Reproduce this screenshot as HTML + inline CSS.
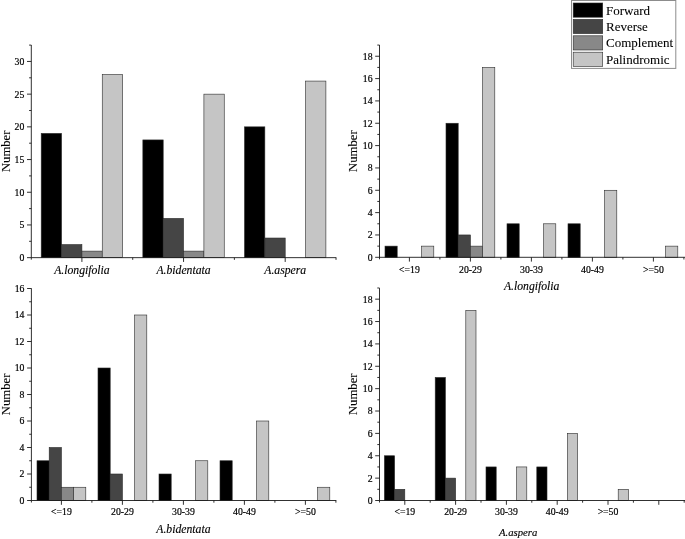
<!DOCTYPE html>
<html lang="en"><head><meta charset="utf-8"><title>Repeats</title>
<style>html,body{margin:0;padding:0;background:#fff}body{width:685px;height:539px;overflow:hidden}svg{display:block}text{font-family:"Liberation Serif","Times New Roman",serif;fill:#000;stroke:#000;stroke-width:0.2px}text.b{stroke-width:0.08px}text.i{stroke-width:0.14px}</style>
</head><body>
<svg width="685" height="539" viewBox="0 0 685 539">
<rect width="685" height="539" fill="#fff"/>
<rect x="41.20" y="133.39" width="20.35" height="124.26" fill="#000000" stroke="#2a2a2a" stroke-width="0.6"/>
<rect x="61.55" y="244.57" width="20.35" height="13.08" fill="#454545" stroke="#2a2a2a" stroke-width="0.6"/>
<rect x="81.90" y="251.11" width="20.35" height="6.54" fill="#888888" stroke="#2a2a2a" stroke-width="0.6"/>
<rect x="102.25" y="74.53" width="20.35" height="183.12" fill="#c5c5c5" stroke="#2a2a2a" stroke-width="0.6"/>
<rect x="142.85" y="139.93" width="20.35" height="117.72" fill="#000000" stroke="#2a2a2a" stroke-width="0.6"/>
<rect x="163.20" y="218.41" width="20.35" height="39.24" fill="#454545" stroke="#2a2a2a" stroke-width="0.6"/>
<rect x="183.55" y="251.11" width="20.35" height="6.54" fill="#888888" stroke="#2a2a2a" stroke-width="0.6"/>
<rect x="203.90" y="94.15" width="20.35" height="163.50" fill="#c5c5c5" stroke="#2a2a2a" stroke-width="0.6"/>
<rect x="244.50" y="126.85" width="20.35" height="130.80" fill="#000000" stroke="#2a2a2a" stroke-width="0.6"/>
<rect x="264.85" y="238.03" width="20.35" height="19.62" fill="#454545" stroke="#2a2a2a" stroke-width="0.6"/>
<rect x="305.55" y="81.07" width="20.35" height="176.58" fill="#c5c5c5" stroke="#2a2a2a" stroke-width="0.6"/>
<path d="M31.30 45.00V259.65M31.30 257.65H336.30" fill="none" stroke="#1a1a1a" stroke-width="0.9"/>
<text x="24.30" y="261.05" text-anchor="end" font-size="9.75">0</text>
<text x="24.30" y="228.35" text-anchor="end" font-size="9.75">5</text>
<text x="24.30" y="195.65" text-anchor="end" font-size="9.75">10</text>
<text x="24.30" y="162.95" text-anchor="end" font-size="9.75">15</text>
<text x="24.30" y="130.25" text-anchor="end" font-size="9.75">20</text>
<text x="24.30" y="97.55" text-anchor="end" font-size="9.75">25</text>
<text x="24.30" y="64.85" text-anchor="end" font-size="9.75">30</text>
<path d="M31.30 257.65h-4.3M31.30 224.95h-4.3M31.30 192.25h-4.3M31.30 159.55h-4.3M31.30 126.85h-4.3M31.30 94.15h-4.3M31.30 61.45h-4.3M31.30 241.30h-2.2M31.30 208.60h-2.2M31.30 175.90h-2.2M31.30 143.20h-2.2M31.30 110.50h-2.2M31.30 77.80h-2.2M31.30 45.10h-2.2M81.90 257.65v4.3M183.55 257.65v4.3M285.20 257.65v4.3M132.73 257.65v2.2M234.38 257.65v2.2M336.03 257.65v2.2" fill="none" stroke="#1a1a1a" stroke-width="0.9"/>
<text x="81.90" y="273.60" text-anchor="middle" font-size="11.7" font-style="italic" class="i">A.longifolia</text>
<text x="183.55" y="273.60" text-anchor="middle" font-size="11.7" font-style="italic" class="i">A.bidentata</text>
<text x="285.20" y="273.60" text-anchor="middle" font-size="11.7" font-style="italic" class="i">A.aspera</text>
<text transform="translate(10.20 151.32) rotate(-90)" text-anchor="middle" font-size="12.7" class="b">Number</text>
<rect x="385.00" y="246.13" width="12.20" height="11.17" fill="#000000" stroke="#2a2a2a" stroke-width="0.6"/>
<rect x="421.60" y="246.13" width="12.20" height="11.17" fill="#c5c5c5" stroke="#2a2a2a" stroke-width="0.6"/>
<rect x="446.00" y="123.26" width="12.20" height="134.04" fill="#000000" stroke="#2a2a2a" stroke-width="0.6"/>
<rect x="458.20" y="234.96" width="12.20" height="22.34" fill="#454545" stroke="#2a2a2a" stroke-width="0.6"/>
<rect x="470.40" y="246.13" width="12.20" height="11.17" fill="#888888" stroke="#2a2a2a" stroke-width="0.6"/>
<rect x="482.60" y="67.41" width="12.20" height="189.89" fill="#c5c5c5" stroke="#2a2a2a" stroke-width="0.6"/>
<rect x="507.00" y="223.79" width="12.20" height="33.51" fill="#000000" stroke="#2a2a2a" stroke-width="0.6"/>
<rect x="543.60" y="223.79" width="12.20" height="33.51" fill="#c5c5c5" stroke="#2a2a2a" stroke-width="0.6"/>
<rect x="568.00" y="223.79" width="12.20" height="33.51" fill="#000000" stroke="#2a2a2a" stroke-width="0.6"/>
<rect x="604.60" y="190.28" width="12.20" height="67.02" fill="#c5c5c5" stroke="#2a2a2a" stroke-width="0.6"/>
<rect x="665.60" y="246.13" width="12.20" height="11.17" fill="#c5c5c5" stroke="#2a2a2a" stroke-width="0.6"/>
<path d="M379.50 45.00V259.30M379.50 257.30H685.00" fill="none" stroke="#1a1a1a" stroke-width="0.9"/>
<text x="372.50" y="260.70" text-anchor="end" font-size="9.75">0</text>
<text x="372.50" y="238.36" text-anchor="end" font-size="9.75">2</text>
<text x="372.50" y="216.02" text-anchor="end" font-size="9.75">4</text>
<text x="372.50" y="193.68" text-anchor="end" font-size="9.75">6</text>
<text x="372.50" y="171.34" text-anchor="end" font-size="9.75">8</text>
<text x="372.50" y="149.00" text-anchor="end" font-size="9.75">10</text>
<text x="372.50" y="126.66" text-anchor="end" font-size="9.75">12</text>
<text x="372.50" y="104.32" text-anchor="end" font-size="9.75">14</text>
<text x="372.50" y="81.98" text-anchor="end" font-size="9.75">16</text>
<text x="372.50" y="59.64" text-anchor="end" font-size="9.75">18</text>
<path d="M379.50 257.30h-4.3M379.50 234.96h-4.3M379.50 212.62h-4.3M379.50 190.28h-4.3M379.50 167.94h-4.3M379.50 145.60h-4.3M379.50 123.26h-4.3M379.50 100.92h-4.3M379.50 78.58h-4.3M379.50 56.24h-4.3M379.50 246.13h-2.2M379.50 223.79h-2.2M379.50 201.45h-2.2M379.50 179.11h-2.2M379.50 156.77h-2.2M379.50 134.43h-2.2M379.50 112.09h-2.2M379.50 89.75h-2.2M379.50 67.41h-2.2M379.50 45.07h-2.2M409.40 257.30v4.3M470.40 257.30v4.3M531.40 257.30v4.3M592.40 257.30v4.3M653.40 257.30v4.3M439.90 257.30v2.2M500.90 257.30v2.2M561.90 257.30v2.2M622.90 257.30v2.2M683.90 257.30v2.2" fill="none" stroke="#1a1a1a" stroke-width="0.9"/>
<text x="409.40" y="272.60" text-anchor="middle" font-size="9.75">&lt;=19</text>
<text x="470.40" y="272.60" text-anchor="middle" font-size="9.75">20-29</text>
<text x="531.40" y="272.60" text-anchor="middle" font-size="9.75">30-39</text>
<text x="592.40" y="272.60" text-anchor="middle" font-size="9.75">40-49</text>
<text x="653.40" y="272.60" text-anchor="middle" font-size="9.75">&gt;=50</text>
<text x="531.70" y="289.80" text-anchor="middle" font-size="11.7" font-style="italic" class="i">A.longifolia</text>
<text transform="translate(356.80 151.15) rotate(-90)" text-anchor="middle" font-size="12.7" class="b">Number</text>
<rect x="37.00" y="460.75" width="12.20" height="39.75" fill="#000000" stroke="#2a2a2a" stroke-width="0.6"/>
<rect x="49.20" y="447.50" width="12.20" height="53.00" fill="#454545" stroke="#2a2a2a" stroke-width="0.6"/>
<rect x="61.40" y="487.25" width="12.20" height="13.25" fill="#888888" stroke="#2a2a2a" stroke-width="0.6"/>
<rect x="73.60" y="487.25" width="12.20" height="13.25" fill="#c5c5c5" stroke="#2a2a2a" stroke-width="0.6"/>
<rect x="98.00" y="368.00" width="12.20" height="132.50" fill="#000000" stroke="#2a2a2a" stroke-width="0.6"/>
<rect x="110.20" y="474.00" width="12.20" height="26.50" fill="#454545" stroke="#2a2a2a" stroke-width="0.6"/>
<rect x="134.60" y="315.00" width="12.20" height="185.50" fill="#c5c5c5" stroke="#2a2a2a" stroke-width="0.6"/>
<rect x="159.00" y="474.00" width="12.20" height="26.50" fill="#000000" stroke="#2a2a2a" stroke-width="0.6"/>
<rect x="195.60" y="460.75" width="12.20" height="39.75" fill="#c5c5c5" stroke="#2a2a2a" stroke-width="0.6"/>
<rect x="220.00" y="460.75" width="12.20" height="39.75" fill="#000000" stroke="#2a2a2a" stroke-width="0.6"/>
<rect x="256.60" y="421.00" width="12.20" height="79.50" fill="#c5c5c5" stroke="#2a2a2a" stroke-width="0.6"/>
<rect x="317.60" y="487.25" width="12.20" height="13.25" fill="#c5c5c5" stroke="#2a2a2a" stroke-width="0.6"/>
<path d="M31.40 288.30V502.50M31.40 500.50H336.30" fill="none" stroke="#1a1a1a" stroke-width="0.9"/>
<text x="24.40" y="503.90" text-anchor="end" font-size="9.75">0</text>
<text x="24.40" y="477.40" text-anchor="end" font-size="9.75">2</text>
<text x="24.40" y="450.90" text-anchor="end" font-size="9.75">4</text>
<text x="24.40" y="424.40" text-anchor="end" font-size="9.75">6</text>
<text x="24.40" y="397.90" text-anchor="end" font-size="9.75">8</text>
<text x="24.40" y="371.40" text-anchor="end" font-size="9.75">10</text>
<text x="24.40" y="344.90" text-anchor="end" font-size="9.75">12</text>
<text x="24.40" y="318.40" text-anchor="end" font-size="9.75">14</text>
<text x="24.40" y="291.90" text-anchor="end" font-size="9.75">16</text>
<path d="M31.40 500.50h-4.3M31.40 474.00h-4.3M31.40 447.50h-4.3M31.40 421.00h-4.3M31.40 394.50h-4.3M31.40 368.00h-4.3M31.40 341.50h-4.3M31.40 315.00h-4.3M31.40 288.50h-4.3M31.40 487.25h-2.2M31.40 460.75h-2.2M31.40 434.25h-2.2M31.40 407.75h-2.2M31.40 381.25h-2.2M31.40 354.75h-2.2M31.40 328.25h-2.2M31.40 301.75h-2.2M61.40 500.50v4.3M122.40 500.50v4.3M183.40 500.50v4.3M244.40 500.50v4.3M305.40 500.50v4.3M91.90 500.50v2.2M152.90 500.50v2.2M213.90 500.50v2.2M274.90 500.50v2.2M335.90 500.50v2.2" fill="none" stroke="#1a1a1a" stroke-width="0.9"/>
<text x="61.40" y="514.70" text-anchor="middle" font-size="9.75">&lt;=19</text>
<text x="122.40" y="514.70" text-anchor="middle" font-size="9.75">20-29</text>
<text x="183.40" y="514.70" text-anchor="middle" font-size="9.75">30-39</text>
<text x="244.40" y="514.70" text-anchor="middle" font-size="9.75">40-49</text>
<text x="305.40" y="514.70" text-anchor="middle" font-size="9.75">&gt;=50</text>
<text x="183.40" y="532.50" text-anchor="middle" font-size="11.7" font-style="italic" class="i">A.bidentata</text>
<text transform="translate(10.20 394.40) rotate(-90)" text-anchor="middle" font-size="12.7" class="b">Number</text>
<rect x="384.40" y="455.76" width="10.20" height="44.74" fill="#000000" stroke="#2a2a2a" stroke-width="0.6"/>
<rect x="394.60" y="489.31" width="10.20" height="11.19" fill="#454545" stroke="#2a2a2a" stroke-width="0.6"/>
<rect x="435.20" y="377.46" width="10.20" height="123.04" fill="#000000" stroke="#2a2a2a" stroke-width="0.6"/>
<rect x="445.40" y="478.13" width="10.20" height="22.37" fill="#454545" stroke="#2a2a2a" stroke-width="0.6"/>
<rect x="465.80" y="310.36" width="10.20" height="190.14" fill="#c5c5c5" stroke="#2a2a2a" stroke-width="0.6"/>
<rect x="486.00" y="466.94" width="10.20" height="33.56" fill="#000000" stroke="#2a2a2a" stroke-width="0.6"/>
<rect x="516.60" y="466.94" width="10.20" height="33.56" fill="#c5c5c5" stroke="#2a2a2a" stroke-width="0.6"/>
<rect x="536.80" y="466.94" width="10.20" height="33.56" fill="#000000" stroke="#2a2a2a" stroke-width="0.6"/>
<rect x="567.40" y="433.39" width="10.20" height="67.11" fill="#c5c5c5" stroke="#2a2a2a" stroke-width="0.6"/>
<rect x="618.20" y="489.31" width="10.20" height="11.19" fill="#c5c5c5" stroke="#2a2a2a" stroke-width="0.6"/>
<path d="M379.50 288.10V502.50M379.50 500.50H685.00" fill="none" stroke="#1a1a1a" stroke-width="0.9"/>
<text x="372.50" y="503.90" text-anchor="end" font-size="9.75">0</text>
<text x="372.50" y="481.53" text-anchor="end" font-size="9.75">2</text>
<text x="372.50" y="459.16" text-anchor="end" font-size="9.75">4</text>
<text x="372.50" y="436.79" text-anchor="end" font-size="9.75">6</text>
<text x="372.50" y="414.42" text-anchor="end" font-size="9.75">8</text>
<text x="372.50" y="392.05" text-anchor="end" font-size="9.75">10</text>
<text x="372.50" y="369.68" text-anchor="end" font-size="9.75">12</text>
<text x="372.50" y="347.31" text-anchor="end" font-size="9.75">14</text>
<text x="372.50" y="324.94" text-anchor="end" font-size="9.75">16</text>
<text x="372.50" y="302.57" text-anchor="end" font-size="9.75">18</text>
<path d="M379.50 500.50h-4.3M379.50 478.13h-4.3M379.50 455.76h-4.3M379.50 433.39h-4.3M379.50 411.02h-4.3M379.50 388.65h-4.3M379.50 366.28h-4.3M379.50 343.91h-4.3M379.50 321.54h-4.3M379.50 299.17h-4.3M379.50 489.31h-2.2M379.50 466.94h-2.2M379.50 444.57h-2.2M379.50 422.20h-2.2M379.50 399.83h-2.2M379.50 377.46h-2.2M379.50 355.10h-2.2M379.50 332.73h-2.2M379.50 310.36h-2.2M379.50 287.99h-2.2M404.80 500.50v4.3M455.60 500.50v4.3M506.40 500.50v4.3M557.20 500.50v4.3M608.00 500.50v4.3M658.80 500.50v4.3M430.20 500.50v2.2M481.00 500.50v2.2M531.80 500.50v2.2M582.60 500.50v2.2M633.40 500.50v2.2M684.20 500.50v2.2" fill="none" stroke="#1a1a1a" stroke-width="0.9"/>
<text x="404.80" y="514.70" text-anchor="middle" font-size="9.75">&lt;=19</text>
<text x="455.60" y="514.70" text-anchor="middle" font-size="9.75">20-29</text>
<text x="506.40" y="514.70" text-anchor="middle" font-size="9.75">30-39</text>
<text x="557.20" y="514.70" text-anchor="middle" font-size="9.75">40-49</text>
<text x="608.00" y="514.70" text-anchor="middle" font-size="9.75">&gt;=50</text>
<text x="518.20" y="535.50" text-anchor="middle" font-size="10.7" font-style="italic" class="i">A.aspera</text>
<text transform="translate(357.10 394.30) rotate(-90)" text-anchor="middle" font-size="12.7" class="b">Number</text>
<rect x="571.5" y="0.5" width="104.3" height="67.9" fill="#fff" stroke="#8c8c8c" stroke-width="1"/>
<rect x="573.2" y="3.00" width="29.5" height="14.2" fill="#000000" stroke="#2a2a2a" stroke-width="0.6"/>
<text x="606.0" y="14.60" font-size="13" class="b">Forward</text>
<rect x="573.2" y="19.40" width="29.5" height="14.2" fill="#454545" stroke="#2a2a2a" stroke-width="0.6"/>
<text x="606.0" y="30.90" font-size="13" class="b">Reverse</text>
<rect x="573.2" y="35.80" width="29.5" height="14.2" fill="#888888" stroke="#2a2a2a" stroke-width="0.6"/>
<text x="606.0" y="47.20" font-size="13" class="b">Complement</text>
<rect x="573.2" y="52.20" width="29.5" height="14.2" fill="#c5c5c5" stroke="#2a2a2a" stroke-width="0.6"/>
<text x="606.0" y="63.50" font-size="13" class="b">Palindromic</text>
</svg></body></html>
